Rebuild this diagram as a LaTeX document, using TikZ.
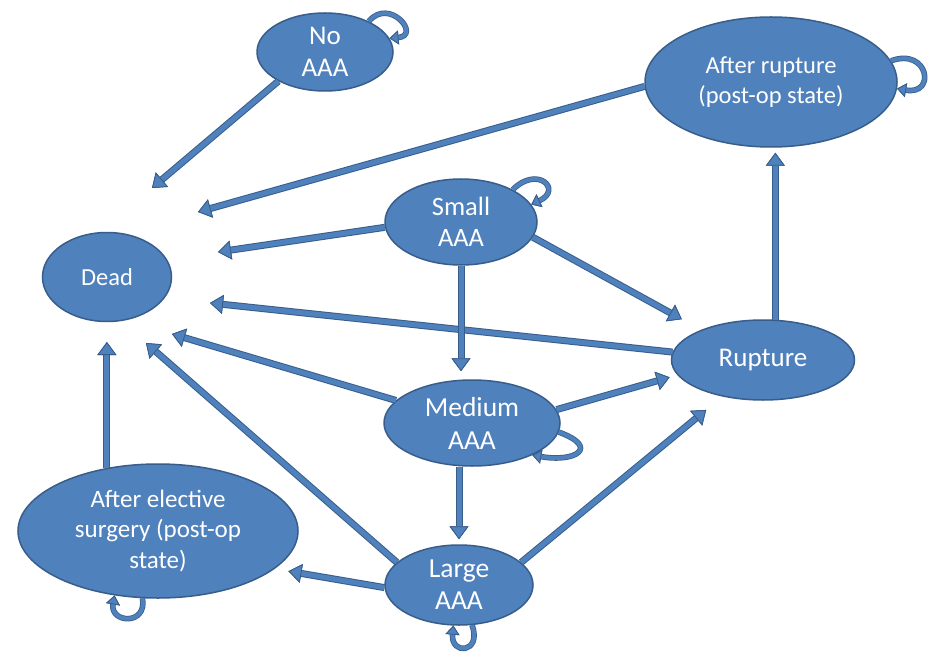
\documentclass[tikz,border=0pt]{standalone}
\usepackage{fontspec}
\setmainfont{Carlito}
\usetikzlibrary{arrows.meta,shapes.geometric}
\definecolor{fillblue}{RGB}{79,129,189}
\definecolor{edgeblue}{RGB}{56,93,138}
\tikzset{
  state/.style={ellipse, draw=edgeblue, line width=1.5pt, fill=fillblue, text=white,
    inner sep=0pt, align=center, font=\fontsize{24.5}{31}\selectfont},
  bigtip/.tip={Triangle[length=13pt,width=19pt,line width=0.8pt,color=edgeblue,fill=fillblue]},
  smalltip/.tip={Triangle[length=9pt,width=14pt,line width=0.8pt,color=edgeblue,fill=fillblue]},
  arr/.style={draw=fillblue, line width=5pt, shorten >=#1, -bigtip,
    preaction={draw=edgeblue, line width=7pt, shorten >=#1, -bigtip}},
  arr/.default=0pt,
  selfloop/.style={draw=fillblue, line width=4pt, -smalltip,
    preaction={draw=edgeblue, line width=5.6pt, -smalltip}},
}
\begin{document}
\begin{tikzpicture}[x=1pt,y=1pt]
\useasboundingbox (0,0) rectangle (949,657);
\fill[white] (0,0) rectangle (949,657);

\node[state, minimum width=136pt, minimum height=78pt, font=\fontsize{27}{31.5}\selectfont] (noaaa) at (325,605) {No\\AAA};
\node[state, minimum width=252pt, minimum height=130pt, font=\fontsize{24.5}{30}\selectfont] (ar) at (771,575) {After rupture\\(post-op state)};
\node[state, minimum width=152pt, minimum height=86pt, font=\fontsize{26.5}{31}\selectfont] (small) at (461,435) {Small\\AAA};
\node[state, minimum width=129pt, minimum height=89pt, font=\fontsize{24.5}{30}\selectfont] (dead) at (107,380) {Dead};
\node[state, minimum width=183pt, minimum height=80pt, font=\fontsize{27}{32}\selectfont] (rupture) at (763,297) {Rupture};
\node[state, minimum width=176pt, minimum height=86pt, font=\fontsize{27.5}{33}\selectfont] (medium) at (472,234) {Medium\\AAA};
\node[state, minimum width=148pt, minimum height=80pt, font=\fontsize{27.5}{32}\selectfont] (large) at (459,72) {Large\\AAA};
\node[state, minimum width=280pt, minimum height=134pt, font=\fontsize{25}{30.5}\selectfont] (elective) at (158,126) {After elective\\surgery (post-op\\state)};

\coordinate (d1) at (152,469);
\coordinate (d2) at (198,445);
\coordinate (d3) at (218,405);
\coordinate (d4) at (210,354);
\coordinate (d5) at (172,323);
\coordinate (d6) at (146,314);
\coordinate (d7) at (108,315);

% arrows into Dead
\draw[arr] (noaaa.212) -- (d1);
\draw[arr] (ar.182) -- (d2);
\draw[arr] (small.184) -- (d3);
\draw[arr] (rupture.175) -- (d4);
\draw[arr] (medium) -- (d5);
\draw[arr] (large.160) -- (d6);
\draw[arr] (elective.129) -- (elective.129 |- d7);

% other transitions
\draw[arr=8pt] (small.south) -- (small.south |- medium.north);
\draw[arr=5pt] (large.north |- medium.south) -- (large.north);
\draw[arr=5pt] (rupture.73) -- (rupture.73 |- ar.south);
\draw[arr=22pt] (small.-12) -- (rupture.154);
\draw[arr=8pt] (medium.9) -- (rupture.190);
\draw[arr=21pt] (large.20) -- (rupture.222);
\draw[arr=14pt] (large.182) -- (elective.-18);

% self loops
\draw[selfloop] (noaaa.35) to[out=50, in=5, distance=32pt] (noaaa.12);
\draw[selfloop] (ar.10) to[out=20, in=-10, distance=40pt] (ar.-3);
\draw[selfloop] (small.32) to[out=45, in=25, distance=35pt] (small.14);
\draw[selfloop] (medium.-6) to[out=-20, in=-10, distance=44pt] (medium.-28);
\draw[selfloop] (large.-72) to[out=-70, in=-95, distance=30pt] (large.-98);
\draw[selfloop] (elective.-103) to[out=-80, in=-100, distance=28pt] (elective.-124);
\end{tikzpicture}
\end{document}
